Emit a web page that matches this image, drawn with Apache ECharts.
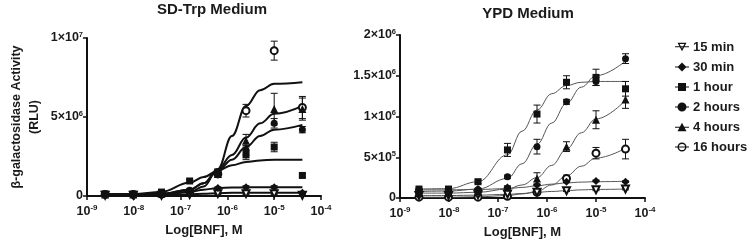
<!DOCTYPE html>
<html>
<head>
<meta charset="utf-8">
<script src="https://cdn.jsdelivr.net/npm/echarts@6/dist/echarts.min.js"></script>
<style>
  html, body { margin: 0; padding: 0; background: #fff; }
  #chart { width: 748px; height: 240px; }
</style>
</head>
<body>
<div id="chart"></div>
<script>
// BNF concentrations (M), 4-fold dilution series
const conc = [2.44e-9, 9.77e-9, 3.91e-8, 1.56e-7, 6.25e-7, 2.5e-6, 1e-5, 4e-5]
const curveConc = [2.44e-9, 9.77e-9, 3.91e-8, 1.56e-7, 3.1e-7, 6.25e-7, 1.25e-6, 2.5e-6, 5e-6, 1e-5, 4e-5]

const seriesNames = ['15 min', '30 min', '1 hour', '2 hours', '4 hours', '16 hours']

// SD-Trp medium: measured means, error half-widths, fitted curve
const sdMeans = {
  '15 min':   [5e4, 5e4, 5e4, 1e5, 1.5e5, 1.5e5, 1.5e5, 5e4],
  '30 min':   [1.0e5, 1.0e5, 1.2e5, 2.5e5, 5.0e5, 5.5e5, 5.5e5, 2.0e5],
  '1 hour':   [1.3e5, 1.2e5, 2.5e5, 9.5e5, 1.5e6, 2.6e6, 3.1e6, 1.3e6],
  '2 hours':  [1.0e5, 1.0e5, 1.5e5, 3.0e5, 1.5e6, 2.9e6, 4.6e6, 4.2e6],
  '4 hours':  [1.0e5, 1.0e5, 1.5e5, 3.0e5, 1.4e6, 3.5e6, 5.5e6, 5.5e6],
  '16 hours': [1.0e5, 1.0e5, 1.2e5, 3.0e5, 1.4e6, 5.4e6, 9.2e6, 5.6e6]
}
const sdErr = {
  '15 min':   [3e4, 3e4, 3e4, 3e4, 5e4, 5e4, 5e4, 3e4],
  '30 min':   [3e4, 3e4, 3e4, 5e4, 8e4, 1e5, 1e5, 5e4],
  '1 hour':   [5e4, 5e4, 5e4, 1e5, 2e5, 3e5, 3e5, 1e5],
  '2 hours':  [5e4, 5e4, 5e4, 1e5, 2e5, 3e5, 3e5, 2e5],
  '4 hours':  [5e4, 5e4, 5e4, 1e5, 2e5, 4e5, 1.0e6, 7e5],
  '16 hours': [5e4, 5e4, 5e4, 1e5, 2e5, 4e5, 6e5, 7e5]
}
const sdCurve = {
  '15 min':   [5e4, 5e4, 6e4, 1e5, 1.4e5, 1.8e5, 2.0e5, 2.0e5, 2.0e5, 2.0e5, 2.0e5],
  '30 min':   [1.0e5, 1.0e5, 1.2e5, 2.5e5, 4e5, 5e5, 5.4e5, 5.5e5, 5.5e5, 5.5e5, 5.5e5],
  '1 hour':   [1.0e5, 1.2e5, 2.6e5, 8.5e5, 1.2e6, 1.6e6, 1.95e6, 2.15e6, 2.25e6, 2.3e6, 2.3e6],
  '2 hours':  [1.0e5, 1.0e5, 1.3e5, 4e5, 8e5, 1.6e6, 2.3e6, 3.1e6, 3.8e6, 4.2e6, 4.5e6],
  '4 hours':  [1.0e5, 1.0e5, 1.3e5, 4e5, 8e5, 1.7e6, 2.6e6, 3.7e6, 4.6e6, 5.2e6, 5.7e6],
  '16 hours': [1.0e5, 1.0e5, 1.1e5, 2.5e5, 6e5, 1.7e6, 3.8e6, 5.7e6, 6.7e6, 7.1e6, 7.2e6]
}

// YPD medium
const ypdMeans = {
  '15 min':   [3e4, 3e4, 4e4, 5e4, 7e4, 9e4, 1.0e5, 1.1e5],
  '30 min':   [1.0e5, 1.0e5, 1.1e5, 1.3e5, 1.6e5, 2.0e5, 2.1e5, 2.0e5],
  '1 hour':   [1.1e5, 1.1e5, 2.0e5, 5.9e5, 1.03e6, 1.42e6, 1.48e6, 1.34e6],
  '2 hours':  [8e4, 8e4, 1.0e5, 2.6e5, 6.3e5, 1.18e6, 1.43e6, 1.71e6],
  '4 hours':  [6e4, 6e4, 8e4, 1.3e5, 2.4e5, 6.3e5, 9.6e5, 1.21e6],
  '16 hours': [1e4, 1e4, 1e4, 2e4, 7e4, 2.4e5, 5.5e5, 6.0e5]
}
const ypdErr = {
  '15 min':   [5e3, 5e3, 5e3, 5e3, 1e4, 1e4, 1e4, 1e4],
  '30 min':   [1e4, 1e4, 1e4, 1e4, 1e4, 1e4, 1e4, 1e4],
  '1 hour':   [1e4, 1e4, 2e4, 8e4, 1.1e5, 8e4, 1e5, 9e4],
  '2 hours':  [1e4, 1e4, 1e4, 2e4, 9e4, 3e4, 5e4, 6e4],
  '4 hours':  [1e4, 1e4, 1e4, 2e4, 7e4, 6e4, 1.1e5, 1.1e5],
  '16 hours': [5e3, 5e3, 5e3, 5e3, 2e4, 4e4, 7e4, 1.2e5]
}
const ypdCurve = {
  '15 min':   [3e4, 3e4, 3.5e4, 4.5e4, 5.5e4, 7e4, 8e4, 9e4, 1.0e5, 1.05e5, 1.1e5],
  '30 min':   [1.0e5, 1.0e5, 1.05e5, 1.15e5, 1.3e5, 1.5e5, 1.7e5, 1.85e5, 1.95e5, 2.0e5, 2.05e5],
  '1 hour':   [1.1e5, 1.15e5, 2.0e5, 5.3e5, 8.2e5, 1.08e6, 1.28e6, 1.38e6, 1.42e6, 1.43e6, 1.43e6],
  '2 hours':  [8e4, 8.5e4, 1.1e5, 2.4e5, 4.2e5, 6.6e5, 9.2e5, 1.16e6, 1.36e6, 1.5e6, 1.68e6],
  '4 hours':  [6e4, 6e4, 7e4, 1.1e5, 1.6e5, 2.5e5, 4.0e5, 6.0e5, 8.0e5, 9.7e5, 1.2e6],
  '16 hours': [1e4, 1e4, 1.5e4, 3e4, 5e4, 8e4, 1.6e5, 2.7e5, 3.9e5, 4.9e5, 6.1e5]
}

// tick labels: [base, superscript]
const xTickExp = { '-9': '-9', '-8': '-8', '-7': '-7', '-6': '-6', '-5': '-5', '-4': '-4' }
const sdYTicks = [0, 5e6, 1e7]
const sdYTickText = [['0', ''], ['5×10', '6'], ['1×10', '7']]
const ypdYTicks = [0, 5e5, 1e6, 1.5e6, 2e6]
const ypdYTickText = [['0', ''], ['5×10', '5'], ['1×10', '6'], ['1.5×10', '6'], ['2×10', '6']]

const markers = {
  '15 min':   { symbol: 'emptyTriangle', rotate: 180, size: 7 },
  '30 min':   { symbol: 'diamond', rotate: 0, size: 8 },
  '1 hour':   { symbol: 'rect', rotate: 0, size: 7 },
  '2 hours':  { symbol: 'circle', rotate: 0, size: 7 },
  '4 hours':  { symbol: 'triangle', rotate: 0, size: 8 },
  '16 hours': { symbol: 'emptyCircle', rotate: 0, size: 7 }
}

// legend icons: short line with the marker on it (14 x 10 box)
const legendLine = 'M0,4.45 H14 V5.55 H0 Z '
const legendIcons = {
  '15 min':   'path://' + legendLine + 'M2.5,1 L11.5,1 L7,9.5 Z M4.6,2.2 L7,6.8 L9.4,2.2 Z',
  '30 min':   'path://' + legendLine + 'M7,0.5 L11.5,5 L7,9.5 L2.5,5 Z',
  '1 hour':   'path://' + legendLine + 'M3,1 H11 V9 H3 Z',
  '2 hours':  'path://' + legendLine + 'M2.5,5 A4.5,4.5 0 1,1 11.5,5 A4.5,4.5 0 1,1 2.5,5 Z',
  '4 hours':  'path://' + legendLine + 'M7,0.5 L11.5,9 L2.5,9 Z',
  '16 hours': 'path://' + legendLine + 'M2.5,5 A4.5,4.5 0 1,1 11.5,5 A4.5,4.5 0 1,1 2.5,5 Z M3.9,5 A3.1,3.1 0 1,0 10.1,5 A3.1,3.1 0 1,0 3.9,5 Z'
}

const FONT = 'Liberation Sans, Arial, sans-serif'
const INK = '#1a1a1a'
const rich = {
  b: { fontFamily: FONT, fontSize: 12.5, fontWeight: 'bold', color: INK },
  s: { fontFamily: FONT, fontSize: 7.5, fontWeight: 'bold', color: INK, padding: [0, 0, 7, 0] }
}
const xrich = {
  b: { fontFamily: FONT, fontSize: 12.5, fontWeight: 'bold', color: INK },
  s: { fontFamily: FONT, fontSize: 8, fontWeight: 'bold', color: INK, padding: [0, 0, 7, 0] }
}

const xAxisFor = (gridIndex) => ({
  type: 'log',
  logBase: 10,
  gridIndex,
  min: 1e-9,
  max: 1e-4,
  name: 'Log[BNF], M',
  nameLocation: 'middle',
  nameGap: 28,
  nameTextStyle: { fontFamily: FONT, fontSize: 13, fontWeight: 'bold', color: INK },
  axisLine: { lineStyle: { color: '#111', width: 2 } },
  axisTick: { length: 4, lineStyle: { color: '#111', width: 1.5 } },
  splitLine: { show: false },
  minorTick: { show: false },
  axisLabel: {
    margin: 8,
    formatter: (v) => {
      const e = String(Math.round(Math.log10(v)))
      return '{b|10}{s|' + xTickExp[e] + '}'
    },
    rich: xrich
  }
})

const yAxisFor = (gridIndex, max, interval, ticks, text, name) => ({
  type: 'value',
  gridIndex,
  min: 0,
  max,
  interval,
  name,
  nameLocation: 'middle',
  nameGap: 43,
  nameTextStyle: { fontFamily: FONT, fontSize: 12.5, fontWeight: 'bold', color: INK, lineHeight: 18 },
  axisLine: { show: true, lineStyle: { color: '#111', width: 2 } },
  axisTick: { show: true, length: 4, lineStyle: { color: '#111', width: 1.5 } },
  splitLine: { show: false },
  axisLabel: {
    margin: 4,
    formatter: (v) => {
      const i = ticks.indexOf(v)
      if (i < 0) return ''
      const t = text[i]
      return t[1] ? '{b|' + t[0] + '}{s|' + t[1] + '}' : '{b|' + t[0] + '}'
    },
    rich
  }
})

const series = []
function addPanel(idx, means, errs, curves, curveStyle, prefix) {
  seriesNames.forEach((n) => {
    series.push({
      type: 'line',
      name: prefix + n + ' fit',
      xAxisIndex: idx,
      yAxisIndex: idx,
      data: curveConc.map((c, i) => [c, curves[n][i]]),
      smooth: 0.4,
      smoothMonotone: 'x',
      showSymbol: false,
      silent: true,
      lineStyle: curveStyle,
      z: 2
    })
    series.push({
      type: 'custom',
      name: prefix + n + ' err',
      xAxisIndex: idx,
      yAxisIndex: idx,
      data: conc.map((c, i) => [c, means[n][i] - errs[n][i], means[n][i] + errs[n][i]]),
      renderItem: (params, api) => {
        const lo = api.coord([api.value(0), api.value(1)])
        const hi = api.coord([api.value(0), api.value(2)])
        const w = 3.5
        const st = { stroke: '#111', lineWidth: 1 }
        return {
          type: 'group',
          children: [
            { type: 'line', shape: { x1: lo[0], y1: lo[1], x2: hi[0], y2: hi[1] }, style: st },
            { type: 'line', shape: { x1: lo[0] - w, y1: lo[1], x2: lo[0] + w, y2: lo[1] }, style: st },
            { type: 'line', shape: { x1: hi[0] - w, y1: hi[1], x2: hi[0] + w, y2: hi[1] }, style: st }
          ]
        }
      },
      silent: true,
      z: 3
    })
    const empty = markers[n].symbol.indexOf('empty') === 0
    series.push({
      type: 'line',
      name: prefix + n,
      xAxisIndex: idx,
      yAxisIndex: idx,
      data: conc.map((c, i) => [c, means[n][i]]),
      symbol: markers[n].symbol,
      symbolRotate: markers[n].rotate,
      symbolSize: markers[n].size,
      showSymbol: true,
      itemStyle: empty
        ? { color: '#111', borderColor: '#111', borderWidth: 1.2 }
        : { color: '#111', borderWidth: 0 },
      lineStyle: { width: 0, opacity: 0 },
      z: n === '16 hours' ? 4 : 5
    })
  })
}

addPanel(0, sdMeans, sdErr, sdCurve, { color: '#111', width: 2 }, 'sd ')
addPanel(1, ypdMeans, ypdErr, ypdCurve, { color: '#555', width: 1 }, '')

const chart = echarts.init(document.getElementById('chart'), null, { renderer: 'canvas' })
chart.setOption({
  backgroundColor: '#fff',
  animation: false,
  title: [
    { text: 'SD-Trp Medium', left: 207, top: -3, textAlign: 'center',
      textStyle: { fontFamily: FONT, fontSize: 15, fontWeight: 'bold', color: INK } },
    { text: 'YPD Medium', left: 523, top: 1, textAlign: 'center',
      textStyle: { fontFamily: FONT, fontSize: 15, fontWeight: 'bold', color: INK } }
  ],
  grid: [
    { left: 87, top: 38, width: 234, height: 158, outerBoundsMode: 'none' },
    { left: 400, top: 35, width: 245, height: 163, outerBoundsMode: 'none' }
  ],
  xAxis: [xAxisFor(0), xAxisFor(1)],
  yAxis: [
    yAxisFor(0, 1e7, 5e6, sdYTicks, sdYTickText, 'β-galactosidase Activity\n(RLU)'),
    yAxisFor(1, 2e6, 5e5, ypdYTicks, ypdYTickText, '')
  ],
  legend: {
    data: seriesNames.map((n) => ({ name: n, icon: legendIcons[n] })),
    orient: 'vertical',
    left: 670,
    top: 35,
    itemGap: 6,
    itemWidth: 14,
    itemHeight: 10,
    selectedMode: false,
    itemStyle: { color: '#111', borderWidth: 0 },
    textStyle: { fontFamily: FONT, fontSize: 13, fontWeight: 'bold', color: INK, lineHeight: 14, padding: [0, 0, 0, -1] }
  },
  series
})
</script>
</body>
</html>
